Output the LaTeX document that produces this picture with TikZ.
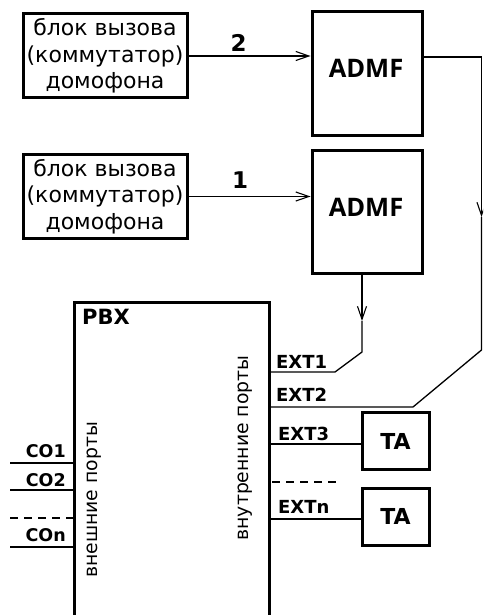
\documentclass[tikz,border=0pt]{standalone}
\usepackage{fontspec}
\usetikzlibrary{arrows.meta}
\newfontfamily\cyrfont{DejaVu Sans}
\newfontfamily\lblfont{DejaVu Sans Bold}
\newfontfamily\admffont{Open Sans Bold}
\begin{document}
\begin{tikzpicture}[x=1pt,y=-1pt,
  thickbox/.style={draw,line width=3pt,inner sep=0pt},
  caller/.style={thickbox,minimum width=164pt,minimum height=84pt,align=center,
    font=\cyrfont\fontsize{22}{26.5}\selectfont},
  admfbox/.style={thickbox,minimum width=110pt,minimum height=123pt},
  admftxt/.style={inner sep=0pt,font=\admffont\fontsize{25.5}{28}\selectfont},
  tabox/.style={thickbox,minimum width=67pt,minimum height=57pt,font=\lblfont\fontsize{22}{24}\selectfont},
  lbl/.style={inner sep=0pt,font=\lblfont\fontsize{18}{20}\selectfont},
  colbl/.style={inner sep=0pt,font=\lblfont\fontsize{17.5}{20}\selectfont},
  numlbl/.style={inner sep=0pt,font=\lblfont\fontsize{23}{25}\selectfont},
  rot/.style={inner sep=0pt,rotate=90,anchor=base,font=\cyrfont\fontsize{18.8}{20}\selectfont},
  wire/.style={line width=1.3pt},
  dashwire/.style={line width=1.3pt,dash pattern=on 8pt off 6pt},
  >={Straight Barb[length=13pt,width=9pt,line width=1.1pt]}]
\useasboundingbox (0,0) rectangle (483,615);
\clip (0,0) rectangle (483,615);
\fill[white] (0,0) rectangle (483,615);

% caller boxes
\node[caller] (c2) at (105,56) {блок вызова\\(коммутатор)\\домофона};
\node[caller] (c1) at (105,196.5) {блок вызова\\(коммутатор)\\домофона};

% ADMF boxes
\node[admfbox] (a2) at (367,73.5) {};
\node[admftxt] (a2t) at (366,68) {ADMF};
\node[admfbox] (a1) at (367,212) {};
\node[admftxt] (a1t) at (366,207) {ADMF};

% caller -> ADMF
\draw[wire,->] (c2.east) -- (c2.east -| a2.west);
\draw[wire,->] (c1.east) -- (c1.east -| a1.west);
\node[numlbl] (n2) at (238.5,42.5) {2};
\node[numlbl] (n1) at (240,180) {1};

% PBX
\node[thickbox,minimum width=195pt,minimum height=340pt] (pbx) at (171.5,472) {};
\node[lbl,anchor=base west,font=\lblfont\fontsize{21}{23}\selectfont] (pbxt) at (82,324) {PBX};
\node[rot] (ext) at (97,500) {внешние порты};
\node[rot] (int) at (248,448) {внутренние порты};

% ADMF1 -> EXT1
\coordinate (v1) at (362,321);
\coordinate (k1) at (362,352);
\coordinate (k2) at (335,372);
\draw[wire,->] (a1.south -| v1) -- (v1);
\draw[wire] (v1) -- (k1) -- (k2) -- (k2 -| pbx.east);

% ADMF2 -> EXT2
\coordinate (o2) at (a2.east |- 0,57);
\coordinate (r1) at (481.5,57);
\coordinate (v2) at (481.5,217);
\coordinate (r2) at (481.5,350);
\coordinate (r3) at (413,407);
\draw[wire] (o2) -- (r1);
\draw[wire,->] (r1) -- (v2);
\draw[wire] (v2) -- (r2) -- (r3) -- (r3 -| pbx.east);

% TA boxes
\node[tabox] (ta1) at (395.5,441) {TA};
\node[tabox] (ta2) at (395.5,516.5) {TA};
\coordinate (e3) at (269,444);
\coordinate (en) at (269,519);
\draw[wire] (e3) -- (e3 -| ta1.west);
\draw[wire] (en) -- (en -| ta2.west);
\coordinate (dr) at (272,482);
\coordinate (dr2) at (338,482);
\draw[dashwire] (dr) -- (dr2);

% EXT labels
\node[lbl,anchor=base west] (x1) at (276,368) {EXT1};
\node[lbl,anchor=base west] (x2) at (276,401) {EXT2};
\node[lbl,anchor=base west] (x3) at (278,440) {EXT3};
\node[lbl,anchor=base west] (xn) at (278,513) {EXTn};

% CO lines
\coordinate (co1) at (10,463);
\coordinate (co2) at (10,490);
\coordinate (cod) at (10,518);
\coordinate (con) at (10,547);
\draw[wire] (co1) -- (co1 -| pbx.west);
\draw[wire] (co2) -- (co2 -| pbx.west);
\draw[dashwire] (cod) -- (cod -| pbx.west);
\draw[wire] (con) -- (con -| pbx.west);
\node[colbl,anchor=base east] (l1) at (66,457) {CO1};
\node[colbl,anchor=base east] (l2) at (66,486) {CO2};
\node[colbl,anchor=base east] (ln) at (66,541) {COn};
\end{tikzpicture}
\end{document}
